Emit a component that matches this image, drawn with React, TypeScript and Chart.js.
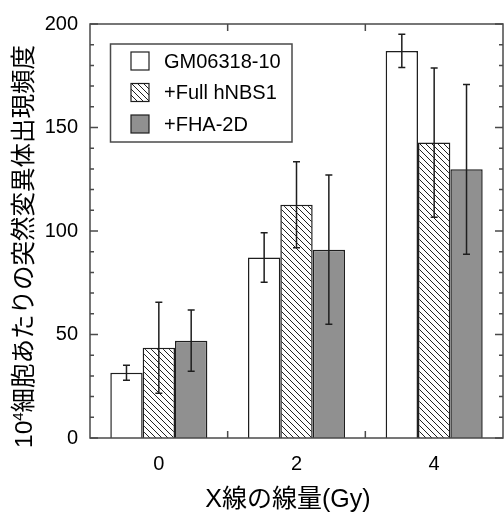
import React, { useEffect, useRef } from 'react';
import { Chart, registerables } from 'chart.js';

Chart.register(...registerables);

const doses = ['0', '2', '4'];
const seriesNames = ['GM06318-10', '+Full hNBS1', '+FHA-2D'];
const gmValues = [31.5, 87.2, 187];
const gmErrors = [3.6, 12, 8];
const fullValues = [43.6, 112.7, 142.7];
const fullErrors = [22, 20.8, 36];
const fhaValues = [47, 91, 129.8];
const fhaErrors = [14.8, 36, 41];
const yMin = 0;
const yMax = 200;
const yMinorStep = 10;
const yMajorStep = 50;
const xTitle = 'X線の線量(Gy)';
const yTitleBase = '10';
const yTitleSup = '4';
const yTitleRest = '細胞あたりの突然変異体出現頻度';

const LATIN = '"Liberation Sans", Arial, Helvetica, sans-serif';
const MIXED = '"Liberation Sans", "Noto Sans CJK JP", sans-serif';
const INK = '#1e1e1e';
const FRAME = '#4a4a4a';

function makeHatch(): CanvasPattern | string {
  const size = 6;
  const c = document.createElement('canvas');
  c.width = size;
  c.height = size;
  const g = c.getContext('2d');
  if (!g) return '#fff';
  g.fillStyle = '#ffffff';
  g.fillRect(0, 0, size, size);
  g.strokeStyle = '#222';
  g.lineWidth = 1;
  g.beginPath();
  g.moveTo(-1, -1);
  g.lineTo(size + 1, size + 1);
  g.moveTo(-1, size - 1);
  g.lineTo(1, size + 1);
  g.moveTo(size - 1, -1);
  g.lineTo(size + 1, 1);
  g.stroke();
  const p = g.createPattern(c, 'repeat');
  return p || '#fff';
}

const errorBarPlugin = {
  id: 'errorBars',
  afterDatasetsDraw(chart: any) {
    const ctx = chart.ctx;
    const ys = chart.scales.y;
    ctx.save();
    ctx.strokeStyle = INK;
    ctx.lineWidth = 1.5;
    chart.data.datasets.forEach((ds: any, di: number) => {
      const meta = chart.getDatasetMeta(di);
      meta.data.forEach((el: any, i: number) => {
        const v = ds.data[i];
        const e = ds.errors[i];
        const x = el.x;
        const yt = ys.getPixelForValue(v + e);
        const yb = ys.getPixelForValue(v - e);
        const cap = 3.5;
        ctx.beginPath();
        ctx.moveTo(x, yt);
        ctx.lineTo(x, yb);
        ctx.moveTo(x - cap, yt);
        ctx.lineTo(x + cap, yt);
        ctx.moveTo(x - cap, yb);
        ctx.lineTo(x + cap, yb);
        ctx.stroke();
      });
    });
    ctx.restore();
  },
};

const framePlugin = {
  id: 'frameTicks',
  afterDraw(chart: any) {
    const ctx = chart.ctx;
    const { left, right, top, bottom } = chart.chartArea;
    const ys = chart.scales.y;
    const xs = chart.scales.x;
    ctx.save();
    ctx.strokeStyle = FRAME;
    ctx.lineWidth = 1.5;
    ctx.strokeRect(left, top, right - left, bottom - top);
    ctx.beginPath();
    for (let v = yMin; v <= yMax; v += yMinorStep) {
      const py = ys.getPixelForValue(v);
      const len = v % yMajorStep === 0 ? 8 : 4;
      ctx.moveTo(left, py);
      ctx.lineTo(left + len, py);
      ctx.moveTo(right, py);
      ctx.lineTo(right - len, py);
    }
    for (let i = 0; i < doses.length - 1; i++) {
      const px = (xs.getPixelForValue(i) + xs.getPixelForValue(i + 1)) / 2;
      ctx.moveTo(px, bottom);
      ctx.lineTo(px, bottom - 7);
      ctx.moveTo(px, top);
      ctx.lineTo(px, top + 7);
    }
    ctx.stroke();
    ctx.restore();
  },
};

const legendPlugin = {
  id: 'boxLegend',
  afterDraw(chart: any) {
    const ctx = chart.ctx;
    const bx = 110.5;
    const by = 44;
    const bw = 181.5;
    const bh = 98;
    ctx.save();
    ctx.fillStyle = '#fff';
    ctx.fillRect(bx, by, bw, bh);
    ctx.strokeStyle = FRAME;
    ctx.lineWidth = 1.5;
    ctx.strokeRect(bx, by, bw, bh);
    ctx.font = `20px ${LATIN}`;
    ctx.textBaseline = 'middle';
    ctx.textAlign = 'left';
    chart.data.datasets.forEach((ds: any, i: number) => {
      const cy = 61 + i * 31.5;
      ctx.fillStyle = ds.backgroundColor;
      ctx.fillRect(131, cy - 9, 18, 18);
      ctx.strokeStyle = INK;
      ctx.lineWidth = 1.2;
      ctx.strokeRect(131, cy - 9, 18, 18);
      ctx.fillStyle = '#000';
      ctx.fillText(ds.label, 164, cy + 1);
    });
    ctx.restore();
  },
};

const titlePlugin = {
  id: 'axisTitles',
  afterDraw(chart: any) {
    const ctx = chart.ctx;
    ctx.save();
    ctx.fillStyle = '#000';
    ctx.textAlign = 'center';
    ctx.textBaseline = 'alphabetic';
    ctx.font = `25px ${MIXED}`;
    ctx.fillText(xTitle, 288, 507);

    ctx.translate(32, 448);
    ctx.rotate(-Math.PI / 2);
    ctx.textAlign = 'left';
    ctx.font = `24.5px ${MIXED}`;
    let x = 0;
    ctx.fillText(yTitleBase, x, 0);
    x += ctx.measureText(yTitleBase).width;
    ctx.font = `15px ${MIXED}`;
    ctx.fillText(yTitleSup, x, -9);
    x += ctx.measureText(yTitleSup).width;
    ctx.font = `24.5px ${MIXED}`;
    ctx.fillText(yTitleRest, x, 0);
    ctx.restore();
  },
};

export default function App() {
  const ref = useRef<HTMLCanvasElement | null>(null);
  useEffect(() => {
    if (!ref.current) return;
    const hatch = makeHatch();
    const chart = new Chart(ref.current, {
      type: 'bar',
      data: {
        labels: doses,
        datasets: [
          { label: seriesNames[0], data: gmValues, errors: gmErrors, backgroundColor: '#ffffff' } as any,
          { label: seriesNames[1], data: fullValues, errors: fullErrors, backgroundColor: hatch } as any,
          { label: seriesNames[2], data: fhaValues, errors: fhaErrors, backgroundColor: '#909090' } as any,
        ].map((d: any) => ({
          ...d,
          borderColor: INK,
          borderWidth: 1.5,
          categoryPercentage: 0.705,
          barPercentage: 1,
        })),
      },
      options: {
        animation: false,
        responsive: false,
        devicePixelRatio: 1,
        layout: { padding: { top: 24, right: 1, left: 0, bottom: 0 } },
        plugins: {
          legend: { display: false },
          tooltip: { enabled: false },
        },
        scales: {
          x: {
            grid: { display: false },
            border: { display: false },
            ticks: {
              color: '#000',
              font: { family: LATIN, size: 20 },
              padding: 6,
            },
            afterFit: (s: any) => {
              s.height = 77;
            },
          },
          y: {
            min: yMin,
            max: yMax,
            grid: { display: false },
            border: { display: false },
            ticks: {
              stepSize: yMinorStep,
              autoSkip: false,
              color: '#000',
              font: { family: LATIN, size: 20 },
              padding: 4,
              callback: (v: any) => (Number(v) % yMajorStep === 0 ? String(v) : ''),
            },
            afterFit: (s: any) => {
              s.width = 90;
            },
          },
        },
      } as any,
      plugins: [errorBarPlugin, framePlugin, legendPlugin, titlePlugin],
    });
    return () => chart.destroy();
  }, []);
  return (
    <div style={{ position: 'fixed', left: 0, top: 0, width: 504, height: 515, background: '#fff' }}>
      <canvas ref={ref} width={504} height={515} style={{ width: 504, height: 515, display: 'block' }} />
    </div>
  );
}
